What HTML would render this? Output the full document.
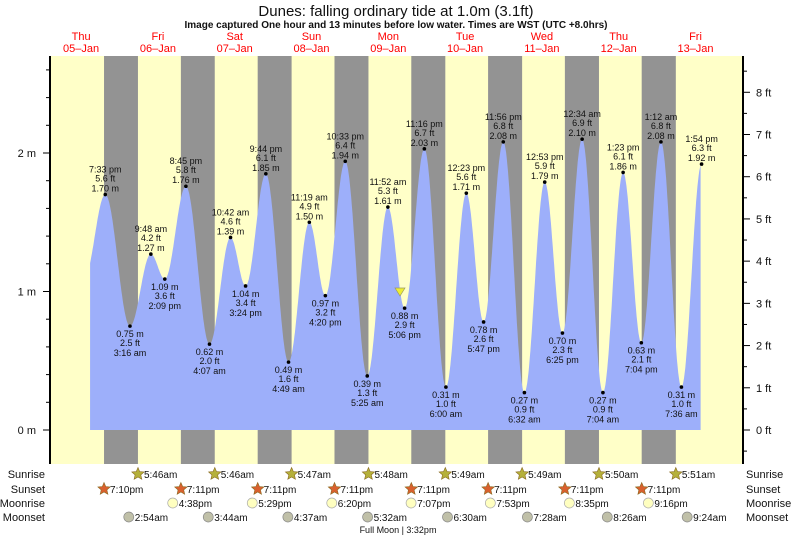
<!DOCTYPE html>
<html><head><meta charset="utf-8"><style>
body{margin:0;background:#fff;}
svg{display:block;font-family:"Liberation Sans",sans-serif;}
</style></head><body>
<svg id="s" width="793" height="538" xmlns="http://www.w3.org/2000/svg"></svg>
<script>
var s=document.getElementById('s');var out='';
function X(h){return 42.7+3.2*h;}
function Y(m){return 430-138.5*m;}
out+='<text x="396" y="16" font-size="15" text-anchor="middle" fill="#111">Dunes: falling  ordinary tide at 1.0m (3.1ft)</text>';
out+='<text x="396" y="28" font-size="10" font-weight="bold" text-anchor="middle" fill="#111">Image captured One hour and 13 minutes before low water. Times are WST (UTC +8.0hrs)</text>';
var days=[['Thu','05\u2013Jan'],['Fri','06\u2013Jan'],['Sat','07\u2013Jan'],['Sun','08\u2013Jan'],['Mon','09\u2013Jan'],['Tue','10\u2013Jan'],['Wed','11\u2013Jan'],['Thu','12\u2013Jan'],['Fri','13\u2013Jan']];
days.forEach(function(d,i){var x=X(i*24+12);out+='<text x="'+x+'" y="40" font-size="11" fill="#f00" text-anchor="middle">'+d[0]+'</text><text x="'+x+'" y="52" font-size="11" fill="#f00" text-anchor="middle">'+d[1]+'</text>';});
out+='<rect x="50" y="56" width="693" height="408" fill="#ffffc8"/>';
var ss=['7:10','7:11','7:11','7:11','7:11','7:11','7:11','7:11'];
var sr=['5:46','5:46','5:47','5:48','5:49','5:49','5:50','5:51'];
function hm(t){var p=t.split(':');return +p[0]+p[1]/60;}
for(var i=0;i<8;i++){var a=X(i*24+12+hm(ss[i])),b=X((i+1)*24+hm(sr[i]));out+='<rect x="'+a+'" y="56" width="'+(b-a)+'" height="408" fill="#939393"/>';}
var E=[[13,1.1,''],[19.55,1.70,'7:33 pm|5.6 ft|1.70 m'],[27.27,0.75,'0.75 m|2.5 ft|3:16 am'],[33.8,1.27,'9:48 am|4.2 ft|1.27 m'],[38.15,1.09,'1.09 m|3.6 ft|2:09 pm'],[44.75,1.76,'8:45 pm|5.8 ft|1.76 m'],[52.12,0.62,'0.62 m|2.0 ft|4:07 am'],[58.7,1.39,'10:42 am|4.6 ft|1.39 m'],[63.4,1.04,'1.04 m|3.4 ft|3:24 pm'],[69.73,1.85,'9:44 pm|6.1 ft|1.85 m'],[76.82,0.49,'0.49 m|1.6 ft|4:49 am'],[83.32,1.50,'11:19 am|4.9 ft|1.50 m'],[88.33,0.97,'0.97 m|3.2 ft|4:20 pm'],[94.55,1.94,'10:33 pm|6.4 ft|1.94 m'],[101.42,0.39,'0.39 m|1.3 ft|5:25 am'],[107.87,1.61,'11:52 am|5.3 ft|1.61 m'],[113.1,0.88,'0.88 m|2.9 ft|5:06 pm'],[119.27,2.03,'11:16 pm|6.7 ft|2.03 m'],[126,0.31,'0.31 m|1.0 ft|6:00 am'],[132.38,1.71,'12:23 pm|5.6 ft|1.71 m'],[137.78,0.78,'0.78 m|2.6 ft|5:47 pm'],[143.93,2.08,'11:56 pm|6.8 ft|2.08 m'],[150.53,0.27,'0.27 m|0.9 ft|6:32 am'],[156.88,1.79,'12:53 pm|5.9 ft|1.79 m'],[162.42,0.70,'0.70 m|2.3 ft|6:25 pm'],[168.57,2.10,'12:34 am|6.9 ft|2.10 m'],[175.07,0.27,'0.27 m|0.9 ft|7:04 am'],[181.38,1.86,'1:23 pm|6.1 ft|1.86 m'],[187.07,0.63,'0.63 m|2.1 ft|7:04 pm'],[193.2,2.08,'1:12 am|6.8 ft|2.08 m'],[199.6,0.31,'0.31 m|1.0 ft|7:36 am'],[205.9,1.92,'1:54 pm|6.3 ft|1.92 m'],[212,0.5,'']];
var h0=14.8,h1=205.6,d='M'+X(h0)+' 430';
for(var h=h0;h<=h1;h+=0.2){var k=0;while(E[k+1][0]<h)k++;var a=E[k],b=E[k+1];var f=(h-a[0])/(b[0]-a[0]);var v=a[1]+(b[1]-a[1])*(1-Math.cos(Math.PI*f))/2;d+=' L'+X(h).toFixed(1)+' '+Y(v).toFixed(1);}
d+=' L'+X(h1)+' 430 Z';
out+='<path d="'+d+'" fill="#9daffa"/>';
E.forEach(function(e,i){if(!e[2])return;var x=X(e[0]),y=Y(e[1]),t=e[2].split('|');var hi=e[1]>E[i-1][1];
out+='<circle cx="'+x+'" cy="'+y+'" r="1.8" fill="#000"/>';
var ys=hi?[y-22,y-13,y-3]:[y+11,y+20,y+30];
for(var j=0;j<3;j++)out+='<text x="'+x+'" y="'+ys[j]+'" font-size="9" text-anchor="middle" fill="#111">'+t[j]+'</text>';});
out+='<path d="M395 288 L405 288 L400 296 Z" fill="#ee3" stroke="#996" stroke-width="0.7"/>';
// axes
out+='<line x1="50" y1="56" x2="50" y2="464" stroke="#000" stroke-width="2"/><line x1="743" y1="56" x2="743" y2="464" stroke="#000" stroke-width="2"/>';
for(var m=0;m<=2.7;m+=0.2){var y=Y(m);var maj=Math.abs(m-Math.round(m))<0.01;out+='<line x1="'+(maj?43:46)+'" y1="'+y+'" x2="50" y2="'+y+'" stroke="#000"/>';if(maj)out+='<text x="36" y="'+(y+4)+'" font-size="11" text-anchor="end" fill="#111">'+Math.round(m)+' m</text>';}
for(var ft=-0.5;ft<=8.5;ft+=0.5){var y=430-ft*0.3048*138.5;if(y<56||y>464)continue;var maj=ft%1==0;out+='<line x1="743" y1="'+y+'" x2="'+(maj?750:747)+'" y2="'+y+'" stroke="#000"/>';if(maj)out+='<text x="756" y="'+(y+4)+'" font-size="11" fill="#111">'+ft+' ft</text>';}
// bottom rows
var L=[['Sunrise',474],['Sunset',489],['Moonrise',503],['Moonset',517]];
L.forEach(function(l){out+='<text x="45" y="'+(l[1]+4)+'" font-size="11" text-anchor="end" fill="#111">'+l[0]+'</text><text x="746" y="'+(l[1]+4)+'" font-size="11" fill="#111">'+l[0]+'</text>';});
function star(x,y,c){var p='';for(var i=0;i<10;i++){var r=i%2?3:6.5,a=-Math.PI/2+i*Math.PI/5;p+=(i?' L':'M')+(x+r*Math.cos(a)).toFixed(1)+' '+(y+r*Math.sin(a)).toFixed(1);}return '<path d="'+p+'Z" fill="'+c+'" stroke="#8a6a20" stroke-width="0.6"/>';}
for(var i=0;i<8;i++){var x=X((i+1)*24+hm(sr[i]));out+=star(x,474,'#b5b03a')+'<text x="'+(x+6)+'" y="478" font-size="10" fill="#111">'+sr[i]+'am</text>';
x=X(i*24+12+hm(ss[i]));out+=star(x,489,'#d9602e')+'<text x="'+(x+6)+'" y="493" font-size="10" fill="#111">'+ss[i]+'pm</text>';}
var mr=['4:38','5:29','6:20','7:07','7:53','8:35','9:16'];
mr.forEach(function(t,i){var x=X((i+1)*24+12+hm(t));out+='<circle cx="'+x+'" cy="503" r="5" fill="#ffffc0" stroke="#aaa" stroke-width="0.7"/><text x="'+(x+6)+'" y="507" font-size="10" fill="#111">'+t+'pm</text>';});
var ms=['2:54','3:44','4:37','5:32','6:30','7:28','8:26','9:24'];
ms.forEach(function(t,i){var x=X((i+1)*24+hm(t));out+='<circle cx="'+x+'" cy="517" r="5" fill="#c0c0a8" stroke="#888" stroke-width="0.7"/><text x="'+(x+6)+'" y="521" font-size="10" fill="#111">'+t+'am</text>';});
out+='<text x="398" y="533" font-size="9" text-anchor="middle" fill="#111">Full Moon | 3:32pm</text>';
s.innerHTML=out;
</script>
</body></html>
